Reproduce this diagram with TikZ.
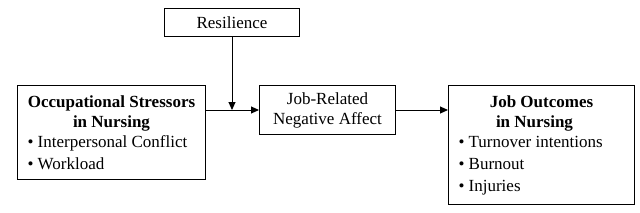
\documentclass[tikz,border=0pt]{standalone}
\usepackage{fontspec}
\setmainfont{Liberation Serif}
\usetikzlibrary{arrows.meta}
\begin{document}
\begin{tikzpicture}[x=1pt,y=-1pt,
  box/.style={draw, line width=1pt, inner sep=0pt, align=center, anchor=north west,
    font=\fontsize{17}{20}\selectfont},
  arr/.style={-{Triangle[length=8pt,width=7pt]}, line width=1pt}]
\useasboundingbox (0,0) rectangle (640,212);
\node[box, minimum width=135pt, minimum height=28pt] (res) at (164,8) {Resilience};
\node[box, minimum width=188pt, minimum height=94pt] (stress) at (17,85)
  {\begin{minipage}{168pt}\centering\bfseries Occupational Stressors\\in Nursing\par
   \raggedright\mdseries \textbullet\ Interpersonal Conflict\\[2pt]\textbullet\ Workload\end{minipage}};
\node[box, minimum width=136pt, minimum height=49pt] (neg) at (259,85)
  {Job-Related\\Negative Affect};
\node[box, minimum width=186pt, minimum height=119pt] (out) at (448,85)
  {\begin{minipage}{166pt}\centering\bfseries Job Outcomes\hspace*{14pt}\\in Nursing\hspace*{14pt}\par
   \raggedright\mdseries \textbullet\ Turnover intentions\\[2pt]\textbullet\ Burnout\\[2pt]\textbullet\ Injuries\end{minipage}};
\coordinate (j) at (res.south |- neg.west);
\draw[arr] (stress.east |- neg.west) -- (neg.west);
\draw[arr] (res.south) -- (j);
\draw[arr] (neg.east) -- (out.west |- neg.east);
\end{tikzpicture}
\end{document}
